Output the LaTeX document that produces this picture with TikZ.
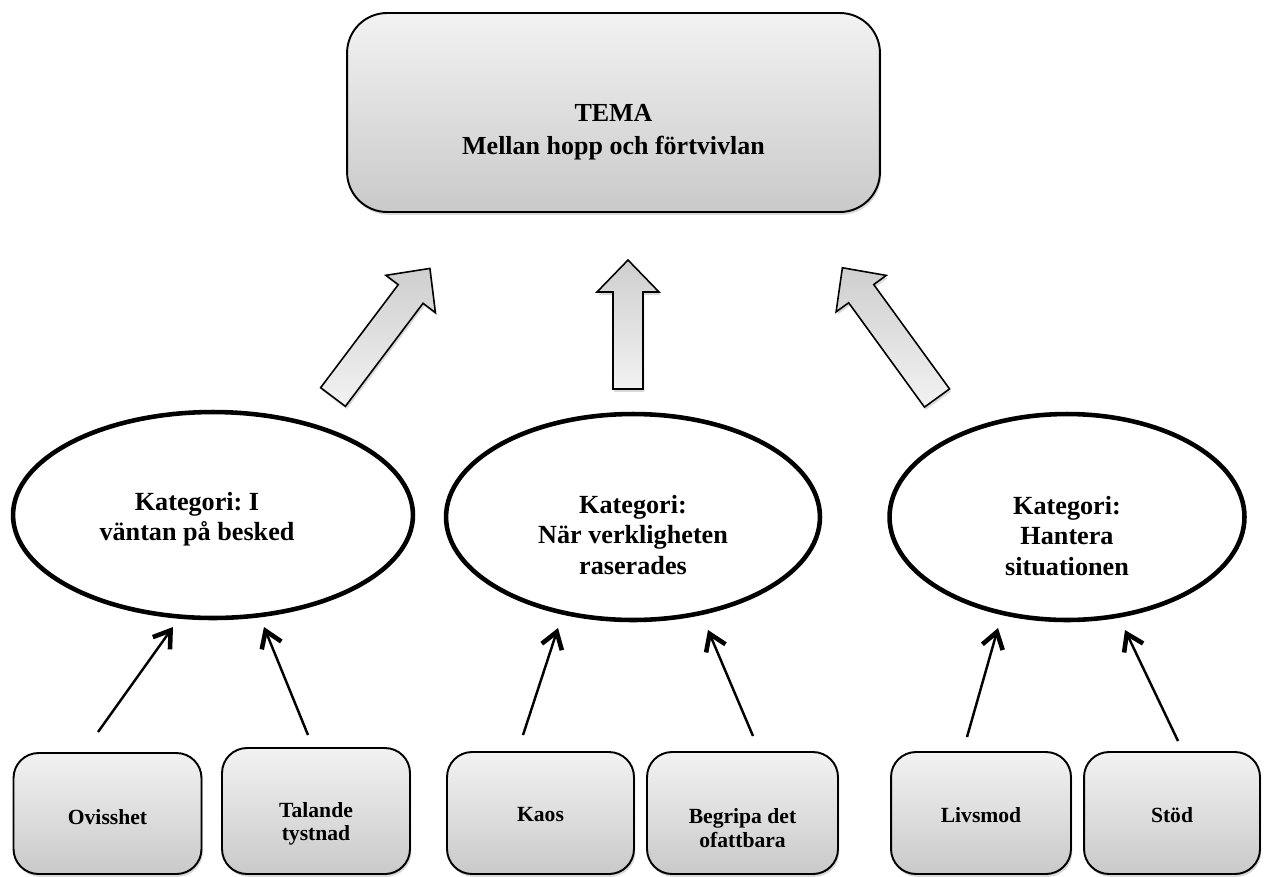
\documentclass[tikz,border=0pt]{standalone}
\usepackage{fontspec}
\setmainfont{Liberation Serif}
\frenchspacing
\usetikzlibrary{shapes.geometric,arrows.meta,shadows}
\begin{document}
\begin{tikzpicture}[x=0.02cm,y=-0.02cm,
  softshadow/.style={drop shadow={opacity=0.3, shadow xshift=0.8pt, shadow yshift=-1.6pt}},
  themebox/.style={draw=black, line width=1.1pt, rounded corners=0.8cm,
    top color=black!5, bottom color=black!21, minimum width=10.66cm, minimum height=3.98cm, softshadow},
  themetext/.style={align=center, font=\fontsize{14.8}{18.7}\selectfont\bfseries},
  catell/.style={ellipse, draw=black, line width=2.6pt, fill=white, inner sep=0pt},
  cattext/.style={align=center, font=\fontsize{14.9}{17.4}\selectfont\bfseries},
  subbox/.style={draw=black, line width=1.1pt, rounded corners=0.5cm,
    top color=black!5, bottom color=black!21, minimum width=3.76cm, softshadow},
  subtext/.style={align=center, font=\fontsize{12.3}{13.2}\selectfont\bfseries},
  thinarrow/.style={line width=1.4pt, -{Straight Barb[length=9pt, width=12pt, line width=2.6pt]}},
  blockarrow/.style={draw=black, line width=0.9pt, top color=black!19, bottom color=black!5, softshadow}
]
\useasboundingbox (0,0) rectangle (1266,876);

% theme box
\node[themebox] (tema) at (613.5,112.5) {};
\node[themetext] (tematext) at (613.5,132) {TEMA\\Mellan hopp och förtvivlan};

% block arrows
\begin{scope}[shift={(333,397)}, rotate=53]
  \path[blockarrow] (0,-15.5) -- (129,-15.5) -- (129,-31) -- (161,0) -- (129,31) -- (129,15.5) -- (0,15.5) -- cycle;
\end{scope}
\begin{scope}[shift={(628,389)}, rotate=90]
  \path[blockarrow] (0,-15) -- (97,-15) -- (97,-31) -- (129,0) -- (97,31) -- (97,15) -- (0,15) -- cycle;
\end{scope}
\begin{scope}[shift={(937,398)}, rotate=126]
  \path[blockarrow] (0,-15.5) -- (129,-15.5) -- (129,-31) -- (161,0) -- (129,31) -- (129,15.5) -- (0,15.5) -- cycle;
\end{scope}

% category ellipses
\node[catell, minimum width=8.0cm, minimum height=4.12cm] (k1) at (213,515) {};
\node[catell, minimum width=7.48cm, minimum height=4.12cm] (k2) at (633,517) {};
\node[catell, minimum width=7.1cm, minimum height=4.12cm] (k3) at (1067,517) {};
\node[cattext] (k1t) at (197,519) {Kategori: I\\väntan på besked};
\node[cattext] (k2t) at (633,535) {Kategori:\\När verkligheten\\raserades};
\node[cattext] (k3t) at (1067,536) {Kategori:\\Hantera\\situationen};

% sub boxes
\node[subbox, minimum height=2.42cm] (s1) at (107.5,813.5) {};
\node[subbox, minimum height=2.52cm] (s2) at (316,811) {};
\node[subbox, minimum width=3.74cm, minimum height=2.44cm] (s3) at (540.5,813) {};
\node[subbox, minimum width=3.82cm, minimum height=2.44cm] (s4) at (742.5,813) {};
\node[subbox, minimum width=3.6cm, minimum height=2.44cm] (s5) at (981,813) {};
\node[subbox, minimum width=3.52cm, minimum height=2.44cm] (s6) at (1172,813) {};
\node[subtext] (s1t) at (107.5,817) {Ovisshet};
\node[subtext] (s2t) at (316,824) {Talande\\tystnad};
\node[subtext] (s3t) at (540.5,815) {Kaos};
\node[subtext] (s4t) at (742.5,828) {Begripa det\\ofattbara};
\node[subtext] (s5t) at (981,815) {Livsmod};
\node[subtext] (s6t) at (1172,815) {Stöd};

% thin arrows
\coordinate (a1s) at (98,732);   \coordinate (a1e) at (173,627);
\coordinate (a2s) at (308,735);  \coordinate (a2e) at (264,627);
\coordinate (a3s) at (523,735);  \coordinate (a3e) at (558,628);
\coordinate (a4s) at (753,736);  \coordinate (a4e) at (708,630);
\coordinate (a5s) at (967,737);  \coordinate (a5e) at (998,628);
\coordinate (a6s) at (1178,741); \coordinate (a6e) at (1125,630);
\draw[thinarrow] (a1s) -- (a1e);
\draw[thinarrow] (a2s) -- (a2e);
\draw[thinarrow] (a3s) -- (a3e);
\draw[thinarrow] (a4s) -- (a4e);
\draw[thinarrow] (a5s) -- (a5e);
\draw[thinarrow] (a6s) -- (a6e);
\end{tikzpicture}
\end{document}
